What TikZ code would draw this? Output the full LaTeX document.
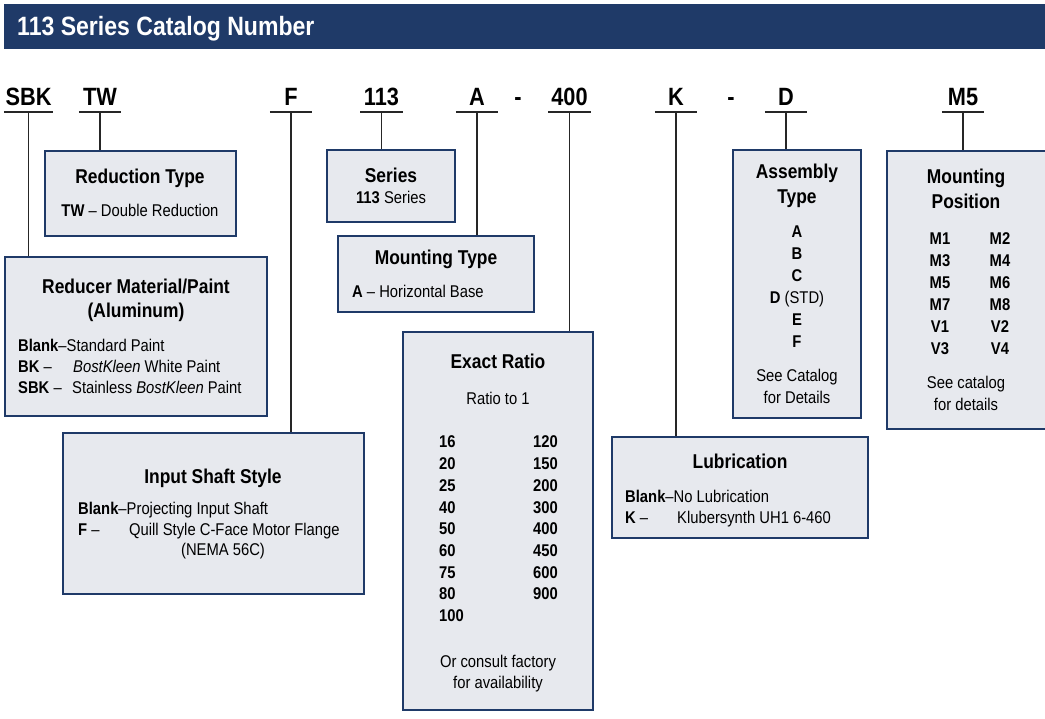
\documentclass[tikz,border=0pt]{standalone}
\usepackage{fontspec}
\setmainfont{Liberation Sans}[FakeStretch=0.87]
\usetikzlibrary{calc}
\definecolor{navy}{HTML}{1F3A68}
\definecolor{boxfill}{HTML}{E7E9EE}
\tikzset{
	box/.style={draw=navy, line width=2.6pt, fill=boxfill, inner sep=0pt},
	code/.style={font=\fontsize{25}{25}\selectfont\bfseries, inner sep=0pt, text depth=6pt, anchor=south, minimum width=42pt},
	ttl/.style={font=\fontsize{20}{20}\selectfont\bfseries, inner sep=0pt, anchor=base},
	txt/.style={font=\fontsize{17}{17}\selectfont, inner sep=0pt, anchor=base},
	txtl/.style={txt, anchor=base west},
	num/.style={txtl, font=\fontsize{17}{17}\selectfont\bfseries},
	rule/.style={draw=black!85, line width=1.3pt},
}
\begin{document}
\begin{tikzpicture}[x=1pt, y=-1pt]
	\clip (0,0) rectangle (1045,719);
	% banner
	\fill[navy] (4,4) rectangle (1046,49);
	\node[anchor=base west, inner sep=0pt, text=white, font=\fontsize{26.5}{26.5}\selectfont\bfseries] (banner) at (17,36) {113 Series Catalog Number};
	% catalog number
	\node[code, minimum width=49pt] (c-sbk) at (28.5,112) {SBK};
	\node[code] (c-tw) at (100,112) {TW};
	\node[code] (c-f) at (291,112) {F};
	\node[code] (c-ser) at (381.5,112) {113};
	\node[code] (c-a) at (477,112) {A};
	\node[code, minimum width=0pt] (dash1) at (518,112) {-};
	\node[code] (c-rat) at (569.5,112) {400};
	\node[code] (c-k) at (676,112) {K};
	\node[code, minimum width=0pt] (dash2) at (731,112) {-};
	\node[code] (c-d) at (786,112) {D};
	\node[code] (c-m) at (963,112) {M5};
	% boxes
	\node[box, minimum width=191pt, minimum height=85pt] (redtype) at (140.5,193.5) {};
	\node[box, minimum width=262pt, minimum height=159pt] (material) at (136,336.5) {};
	\node[box, minimum width=301pt, minimum height=161pt] (shaft) at (213.5,513.5) {};
	\node[box, minimum width=128pt, minimum height=72pt] (series) at (391,186) {};
	\node[box, minimum width=196pt, minimum height=76pt] (mount) at (436,274) {};
	\node[box, minimum width=190pt, minimum height=378pt] (ratio) at (498,521) {};
	\node[box, minimum width=128pt, minimum height=268pt] (assembly) at (797,284) {};
	\node[box, minimum width=256pt, minimum height=101pt] (lube) at (740,487.5) {};
	\node[box, minimum width=190pt, minimum height=278pt] (position) at (982,290) {};
	% underlines and leaders
	\foreach \c/\b in {c-sbk/material, c-tw/redtype, c-f/shaft, c-ser/series, c-a/mount, c-rat/ratio, c-k/lube, c-d/assembly, c-m/position} {
		\draw[rule] (\c.south west) -- (\c.south east);
		\draw[rule] (\c.south) -- (\c.south |- \b.north);
	}
	% reduction type
	\node[ttl] (redtype-t) at (140,184) {Reduction Type};
	\node[txt] (redtype-1) at (140,217) {\textbf{TW} – Double Reduction};
	% material
	\node[ttl] (material-t) at (136,294) {Reducer Material/Paint};
	\node[ttl] (material-t2) at (136,318) {(Aluminum)};
	\node[txtl] (material-1) at (18,352) {\textbf{Blank}–Standard Paint};
	\node[txtl] (material-2) at (18,373) {\textbf{BK} –};
	\node[txtl] (material-2d) at (73,373) {\textit{BostKleen} White Paint};
	\node[txtl] (material-3) at (18,394) {\textbf{SBK} –};
	\node[txtl] (material-3d) at (72,394) {Stainless \textit{BostKleen} Paint};
	% input shaft
	\node[ttl] (shaft-t) at (213,483) {Input Shaft Style};
	\node[txtl] (shaft-1) at (78,514) {\textbf{Blank}–Projecting Input Shaft};
	\node[txtl] (shaft-2) at (78,535) {\textbf{F} –};
	\node[txtl] (shaft-2d) at (129,535) {Quill Style C-Face Motor Flange};
	\node[txt] (shaft-3) at (223,555) {(NEMA 56C)};
	% series
	\node[ttl] (series-t) at (391,183) {Series};
	\node[txt] (series-1) at (391,204) {\textbf{113} Series};
	% mounting type
	\node[ttl] (mount-t) at (436,265) {Mounting Type};
	\node[txtl] (mount-1) at (352,298) {\textbf{A} – Horizontal Base};
	% exact ratio
	\node[ttl] (ratio-t) at (498,369) {Exact Ratio};
	\node[txt] (ratio-s) at (498,405) {Ratio to 1};
	\foreach \r [count=\i from 0] in {16,20,25,40,50,60,75,80,100}
		\node[num] (ra-\i) at (439,448+21.7*\i) {\r};
	\foreach \r [count=\i from 0] in {120,150,200,300,400,450,600,900}
		\node[num] (rb-\i) at (533,448+21.7*\i) {\r};
	\node[txt] (ratio-n1) at (498,667) {Or consult factory};
	\node[txt] (ratio-n2) at (498,688) {for availability};
	% assembly type
	\node[ttl] (assembly-t) at (797,179) {Assembly};
	\node[ttl] (assembly-t2) at (797,204) {Type};
	\foreach \l/\i in {A/0,B/1,C/2,E/4,F/5}
		\node[txt, font=\fontsize{17}{17}\selectfont\bfseries] (as-\i) at (797,238+22*\i) {\l};
	\node[txt] (as-3) at (797,304) {\textbf{D} (STD)};
	\node[txt] (assembly-n1) at (797,382) {See Catalog};
	\node[txt] (assembly-n2) at (797,403) {for Details};
	% lubrication
	\node[ttl] (lube-t) at (740,468) {Lubrication};
	\node[txtl] (lube-1) at (625,502) {\textbf{Blank}–No Lubrication};
	\node[txtl] (lube-2) at (625,523) {\textbf{K} –};
	\node[txtl] (lube-2d) at (677,523) {Klubersynth UH1 6-460};
	% mounting position
	\node[ttl] (position-t) at (966,184) {Mounting};
	\node[ttl] (position-t2) at (966,209) {Position};
	\foreach \l [count=\i from 0] in {M1,M3,M5,M7,V1,V3}
		\node[txt, font=\fontsize{17}{17}\selectfont\bfseries] (pa-\i) at (940,245+22*\i) {\l};
	\foreach \l [count=\i from 0] in {M2,M4,M6,M8,V2,V4}
		\node[txt, font=\fontsize{17}{17}\selectfont\bfseries] (pb-\i) at (1000,245+22*\i) {\l};
	\node[txt] (position-n1) at (966,389) {See catalog};
	\node[txt] (position-n2) at (966,411) {for details};
\end{tikzpicture}
\end{document}
